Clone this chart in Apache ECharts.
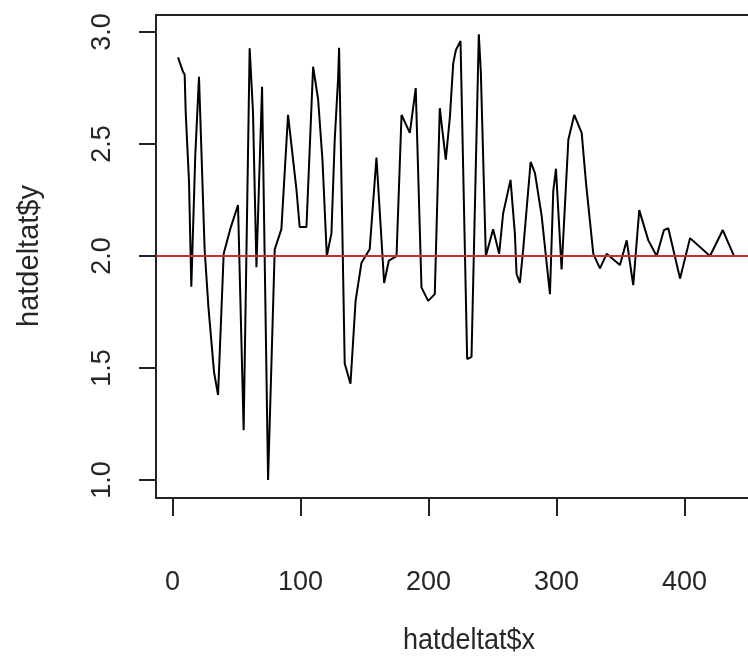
<!DOCTYPE html>
<html>
<head>
<meta charset="utf-8">
<script src="https://cdn.jsdelivr.net/npm/echarts@6/dist/echarts.min.js"></script>
<style>
html,body{margin:0;padding:0;background:#fff;}
#c{width:748px;height:657px;}
</style>
</head>
<body>
<div id="c"></div>
<script>
// x positions of the series (hatdeltat$x)
var xVals = [4.2, 8.1, 9.4, 10.2, 12.8, 14.6, 17.7, 20.6, 25.0, 28.0, 32.4, 35.5, 39.9, 45.0, 51.1, 55.5, 60.2, 62.8, 65.5, 69.9,
  74.6, 79.8, 85.0, 90.2, 96.8, 99.3, 104.6, 109.8, 113.7, 117.1, 120.5, 124.1, 126.7, 129.3, 130.1, 134.5, 139.0, 143.0, 147.6, 154.0,
  159.3, 165.3, 169.0, 175.0, 178.9, 185.4, 190.0, 194.5, 199.7, 204.9, 208.8, 213.5, 216.7, 219.3, 221.4, 225.0, 230.2, 233.6, 239.3, 240.9,
  244.8, 250.5, 255.2, 258.3, 264.1, 267.5, 268.8, 271.4, 274.0, 279.8, 283.2, 288.4, 294.9, 297.5, 299.6, 304.0, 309.3, 313.9, 319.7, 323.2,
  328.8, 334.0, 339.2, 349.6, 354.9, 360.0, 364.7, 371.8, 378.3, 384.0, 387.4, 396.6, 404.4, 420.0, 430.0, 438.8, 450.0];
// y values (hatdeltat$y)
var yVals = [2.887, 2.823, 2.81, 2.644, 2.332, 1.863, 2.45, 2.80, 2.03, 1.77, 1.48, 1.38, 2.01, 2.12, 2.228, 1.223, 2.927, 2.644, 1.95, 2.756,
  1.0, 2.03, 2.12, 2.63, 2.295, 2.13, 2.13, 2.845, 2.70, 2.43, 2.0, 2.10, 2.52, 2.79, 2.93, 1.52, 1.43, 1.80, 1.97, 2.03,
  2.44, 1.88, 1.98, 2.0, 2.63, 2.55, 2.75, 1.86, 1.80, 1.83, 2.66, 2.43, 2.62, 2.86, 2.92, 2.96, 1.54, 1.55, 2.99, 2.82,
  2.0, 2.12, 2.01, 2.19, 2.34, 2.10, 1.92, 1.88, 2.03, 2.42, 2.37, 2.18, 1.83, 2.29, 2.39, 1.94, 2.52, 2.63, 2.55, 2.32,
  2.01, 1.945, 2.01, 1.96, 2.07, 1.87, 2.205, 2.07, 2.0, 2.116, 2.124, 1.90, 2.08, 2.0, 2.116, 2.0, 2.0];
// reference line
var refLine = [2.0];
// tick labels
var xTicks = [0, 100, 200, 300, 400];
var yTicks = [1.0, 1.5, 2.0, 2.5, 3.0];
var xTitle = 'hatdeltat$x';
var yTitle = 'hatdeltat$y';

var pts = xVals.map(function (x, i) { return [x, yVals[i]]; });
var FONT = '"Liberation Sans", Arial, sans-serif';
var TXT = '#262626';
var AX = '#222';

var chart = echarts.init(document.getElementById('c'), null, {renderer: 'canvas'});
chart.setOption({
  animation: false,
  backgroundColor: '#ffffff',
  grid: {left: 156, top: 15, right: 0, bottom: 159, containLabel: false},
  xAxis: [{
    type: 'value', min: -13, max: 449.7, position: 'bottom',
    axisLine: {show: true, onZero: false, lineStyle: {color: AX, width: 2}},
    axisTick: {show: true, inside: false, length: 18, customValues: xTicks, lineStyle: {color: AX, width: 2}},
    axisLabel: {show: true, customValues: xTicks, margin: 85, fontSize: 27, fontFamily: FONT, color: TXT,
      verticalAlign: 'middle', formatter: function (v) { return String(v); }},
    splitLine: {show: false}
  }, {
    type: 'value', min: -13, max: 449.7, position: 'top',
    axisLine: {show: true, onZero: false, lineStyle: {color: AX, width: 2}},
    axisTick: {show: false}, axisLabel: {show: false}, splitLine: {show: false}
  }],
  yAxis: {
    type: 'value', min: 0.92, max: 3.076,
    axisLine: {show: true, onZero: false, lineStyle: {color: AX, width: 2}},
    axisTick: {show: true, inside: false, length: 17, customValues: yTicks, lineStyle: {color: AX, width: 2}},
    axisLabel: {show: true, customValues: yTicks, rotate: 90, margin: 53, fontSize: 27, fontFamily: FONT, color: TXT,
      align: 'center', verticalAlign: 'middle', formatter: function (v) { return v.toFixed(1); }},
    splitLine: {show: false}
  },
  graphic: [
    {type: 'text', style: {text: xTitle, x: 0, y: 0, fontSize: 27, fontFamily: FONT, fill: TXT,
      align: 'center', verticalAlign: 'middle'}, x: 469, y: 641, scaleY: 1.1, z: 10},
    {type: 'text', style: {text: yTitle, x: 0, y: 0, fontSize: 29, fontFamily: FONT, fill: TXT,
      align: 'center', verticalAlign: 'middle'}, x: 30, y: 256, rotation: Math.PI / 2, z: 10}
  ],
  series: [{
    type: 'line', data: pts, showSymbol: false, symbol: 'none', clip: true,
    lineStyle: {color: '#000', width: 2}, z: 3,
    markLine: {silent: true, symbol: ['none', 'none'], label: {show: false},
      lineStyle: {color: '#c8302c', width: 2, type: 'solid'},
      data: refLine.map(function (v) { return {yAxis: v}; })}
  }]
});
</script>
</body>
</html>
